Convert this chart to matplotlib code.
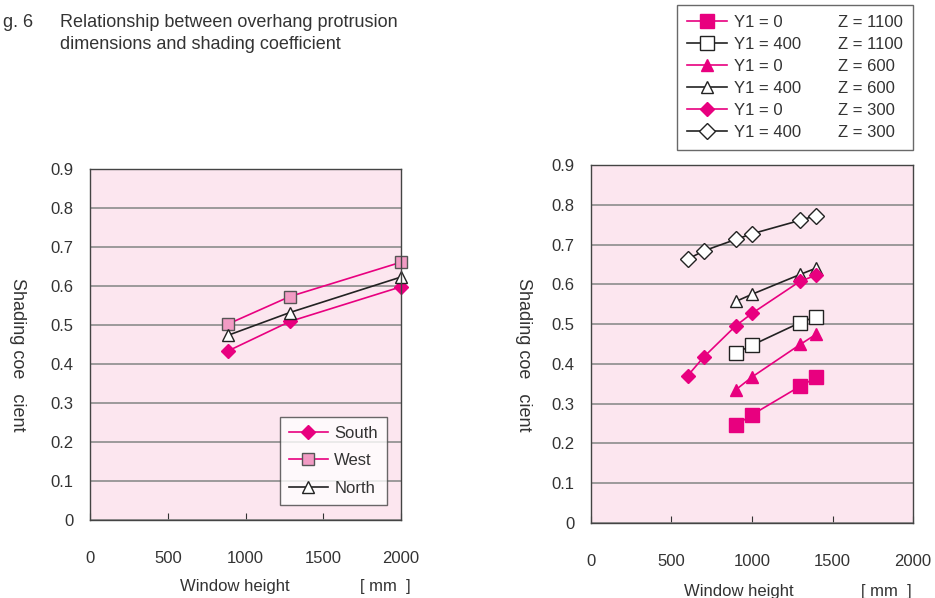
import matplotlib
matplotlib.use('Agg')
import matplotlib.pyplot as plt
from matplotlib.lines import Line2D

plt.rcParams['font.family'] = ['Liberation Sans', 'DejaVu Sans']

MAG = '#e8007f'
PINK_BG = '#fce6ef'
TXT = '#333333'

# left panel: orientation comparison
x_orient = [890, 1285, 2000]
south = [0.434, 0.509, 0.598]
west = [0.503, 0.573, 0.661]
north = [0.474, 0.532, 0.623]

# right panel: Y1 / Z combinations
x_z300 = [600, 700, 900, 1000, 1300, 1400]
y1_0_z300 = [0.370, 0.417, 0.496, 0.527, 0.608, 0.623]
y1_400_z300 = [0.663, 0.684, 0.713, 0.727, 0.761, 0.773]
x_z = [900, 1000, 1300, 1400]
y1_0_z1100 = [0.246, 0.272, 0.344, 0.366]
y1_400_z1100 = [0.427, 0.447, 0.504, 0.519]
y1_0_z600 = [0.335, 0.367, 0.449, 0.475]
y1_400_z600 = [0.557, 0.575, 0.625, 0.641]

x_ticks = [0, 500, 1000, 1500, 2000]
y_ticks = [0, 0.1, 0.2, 0.3, 0.4, 0.5, 0.6, 0.7, 0.8, 0.9]
y_ticklabels = ['0', '0.1', '0.2', '0.3', '0.4', '0.5', '0.6', '0.7', '0.8', '0.9']

fig = plt.figure(figsize=(9.35, 5.98), dpi=100)
ax1 = fig.add_axes([0.0963, 0.1304, 0.3326, 0.587])
ax2 = fig.add_axes([0.632, 0.1254, 0.3445, 0.5987])


def style_axes(ax, label_x, mm_x):
    ax.set_facecolor(PINK_BG)
    ax.set_xlim(0, 2000)
    ax.set_ylim(0, 0.9)
    ax.set_xticks(x_ticks)
    ax.set_yticks(y_ticks)
    ax.set_yticklabels(y_ticklabels)
    ax.grid(axis='y', color='#8c8c8c', linewidth=1.2)
    ax.set_axisbelow(True)
    ax.tick_params(axis='x', direction='in', length=5, pad=22, colors=TXT,
                   labelsize=12, labelcolor=TXT)
    ax.tick_params(axis='y', length=0, pad=12, labelsize=12, labelcolor=TXT)
    for s in ax.spines.values():
        s.set_color('#444444')
        s.set_linewidth(1)
    ax.set_ylabel('Shading coe   cient', rotation=270, fontsize=13, color=TXT)
    ax.yaxis.set_label_coords(label_x, 0.47)
    ax.text(0.29, -0.19, 'Window height', transform=ax.transAxes,
            fontsize=12, color=TXT, va='center')
    ax.text(mm_x, -0.19, '[ mm  ]', transform=ax.transAxes,
            fontsize=12, color=TXT, va='center')


style_axes(ax1, -0.26, 0.868)
style_axes(ax2, -0.235, 0.838)

# left
ax1.plot(x_orient, south, color=MAG, lw=1.2, marker='D', ms=7,
         mfc=MAG, mec=MAG, label='South', clip_on=False)
ax1.plot(x_orient, west, color=MAG, lw=1.2, marker='s', ms=9,
         mfc='#f29bc4', mec='#555555', label='West', clip_on=False)
ax1.plot(x_orient, north, color='#222222', lw=1.2, marker='^', ms=9,
         mfc='white', mec='#222222', label='North', clip_on=False)
leg1 = ax1.legend(loc='lower right', bbox_to_anchor=(0.955, 0.043),
                  borderaxespad=0, fontsize=12, frameon=True, fancybox=False,
                  edgecolor='#444444', handlelength=2.3, handletextpad=0.4,
                  labelspacing=0.75, borderpad=0.55, labelcolor=TXT)
leg1.get_frame().set_linewidth(1)
leg1.get_frame().set_facecolor('white')

# right
lines = []
lines.append(ax2.plot(x_z, y1_0_z1100, color=MAG, lw=1.2, marker='s', ms=10,
                      mfc=MAG, mec=MAG)[0])
lines.append(ax2.plot(x_z, y1_400_z1100, color='#222222', lw=1.2, marker='s',
                      ms=10, mfc='white', mec='#222222')[0])
lines.append(ax2.plot(x_z, y1_0_z600, color=MAG, lw=1.2, marker='^', ms=9,
                      mfc=MAG, mec=MAG)[0])
lines.append(ax2.plot(x_z, y1_400_z600, color='#222222', lw=1.2, marker='^',
                      ms=9, mfc='white', mec='#222222')[0])
lines.append(ax2.plot(x_z300, y1_0_z300, color=MAG, lw=1.2, marker='D', ms=7,
                      mfc=MAG, mec=MAG)[0])
lines.append(ax2.plot(x_z300, y1_400_z300, color='#222222', lw=1.2,
                      marker='D', ms=8, mfc='white', mec='#222222')[0])

y1_labels = ['Y1 = 0', 'Y1 = 400', 'Y1 = 0', 'Y1 = 400', 'Y1 = 0', 'Y1 = 400']
z_labels = ['Z = 1100', 'Z = 1100', 'Z = 600', 'Z = 600', 'Z = 300', 'Z = 300']

handles = lines + [Line2D([], [], linestyle='none') for _ in z_labels]
leg2 = fig.legend(handles, y1_labels + z_labels, ncol=2,
                  loc='upper right', bbox_to_anchor=(0.976, 0.992),
                  borderaxespad=0, fontsize=12, frameon=True, fancybox=False,
                  edgecolor='#444444', handlelength=2.4, handletextpad=0.4,
                  columnspacing=-0.6, labelspacing=0.42, borderpad=0.6,
                  labelcolor=TXT)
leg2.get_frame().set_linewidth(1)

fig.text(0.003, 0.963, 'g. 6', fontsize=13, color=TXT, va='center')
fig.text(0.064, 0.963, 'Relationship between overhang protrusion',
         fontsize=13, color=TXT, va='center')
fig.text(0.064, 0.925, 'dimensions and shading coefficient',
         fontsize=13, color=TXT, va='center')

fig.savefig('out.png', dpi=100)
